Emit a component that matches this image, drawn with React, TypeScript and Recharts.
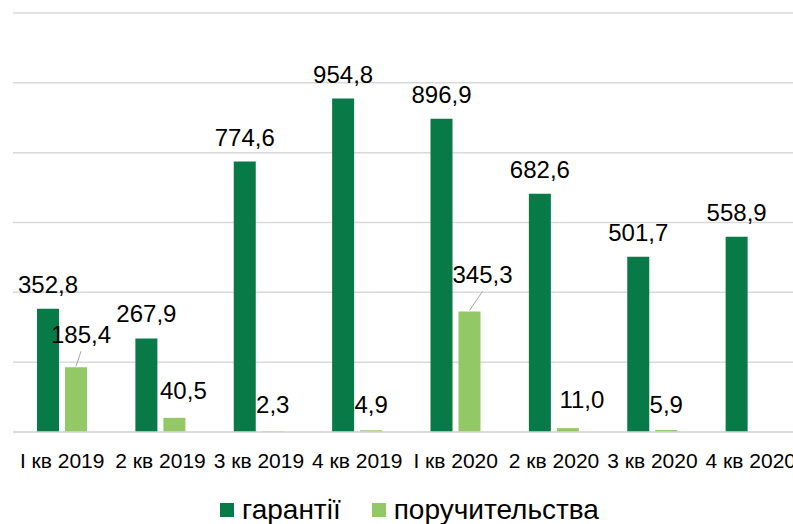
import React from 'react';
import { BarChart, Bar, XAxis, YAxis, CartesianGrid, Legend } from 'recharts';

const categories = ['I кв 2019', '2 кв 2019', '3 кв 2019', '4 кв 2019', 'I кв 2020', '2 кв 2020', '3 кв 2020', '4 кв 2020'];
const guarantees = [352.8, 267.9, 774.6, 954.8, 896.9, 682.6, 501.7, 558.9];
const sureties: (number | null)[] = [185.4, 40.5, 2.3, 4.9, 345.3, 11.0, 5.9, null];
const yTicks = [0, 200, 400, 600, 800, 1000, 1200];

const seriesNames = ['гарантії', 'поручительства'];
const colors = ['#087a47', '#92c966'];

// label placement tweaks for the light series: [dx, extra rise, leader line]
const lightLabelShift: [number, number, boolean][] = [
  [5, 7, true], [9, 2, false], [0, 1, false], [0, 0, false],
  [13, 11, true], [14, 3, false], [0, 0, false], [0, 0, false],
];

const data = categories.map((name, i) => ({ name, g: guarantees[i], s: sureties[i] }));

const FONT = 'Liberation Sans, Arial, sans-serif';
const fmt = (v: number) => v.toFixed(1).replace('.', ',');

const DarkLabel = (props: any) => {
  const { x, y, width, value } = props;
  if (value == null) return null;
  return (
    <text x={x + width / 2} y={y - 16} textAnchor="middle" fontSize={24} fontFamily={FONT} fill="#000">
      {fmt(value)}
    </text>
  );
};

const LightLabel = (props: any) => {
  const { x, y, width, value, index } = props;
  if (value == null) return null;
  const [dx, rise, leader] = lightLabelShift[index] || [0, 0, false];
  const cx = x + width / 2;
  const ty = y - 17 - rise;
  return (
    <g>
      {leader && (
        <line x1={cx} y1={y - 1} x2={cx + dx} y2={ty + 8} stroke="#a6a6a6" strokeWidth={1} />
      )}
      <text x={cx + dx} y={ty} textAnchor="middle" fontSize={24} fontFamily={FONT} fill="#000">
        {fmt(value)}
      </text>
    </g>
  );
};

const LegendContent = () => (
  <div style={{ boxSizing: 'border-box', display: 'flex', justifyContent: 'center', alignItems: 'center', height: 30, fontFamily: FONT, fontSize: 28, color: '#000', paddingLeft: 6, paddingTop: 2 }}>
    {seriesNames.map((n, i) => (
      <div key={n} style={{ display: 'flex', alignItems: 'center', marginRight: i === 0 ? 31 : 0 }}>
        <span style={{ display: 'inline-block', width: 14, height: 14, background: colors[i], marginRight: 8 }} />
        <span>{n}</span>
      </div>
    ))}
  </div>
);

export default function App() {
  return (
    <div style={{ position: 'absolute', left: 0, top: 0, width: 793, height: 524, overflow: 'hidden', background: '#fff' }}>
      <BarChart
        width={810}
        height={524}
        data={data}
        margin={{ top: 13, right: 10, left: 13, bottom: 0 }}
        barSize={22}
        barGap={6}
      >
        <CartesianGrid vertical={false} stroke="#d9d9d9" strokeWidth={1.5} />
        <YAxis hide domain={[0, 1200]} ticks={yTicks} />
        <XAxis
          dataKey="name"
          interval={0}
          height={62}
          tickLine={false}
          tickSize={0}
          tickMargin={21}
          axisLine={{ stroke: '#d9d9d9', strokeWidth: 1.5 }}
          tick={{ fill: '#000', fontSize: 21, fontFamily: FONT }}
        />
        <Legend verticalAlign="bottom" content={<LegendContent />} />
        <Bar dataKey="g" name={seriesNames[0]} fill={colors[0]} isAnimationActive={false} label={<DarkLabel />} />
        <Bar dataKey="s" name={seriesNames[1]} fill={colors[1]} isAnimationActive={false} label={<LightLabel />} />
      </BarChart>
    </div>
  );
}
